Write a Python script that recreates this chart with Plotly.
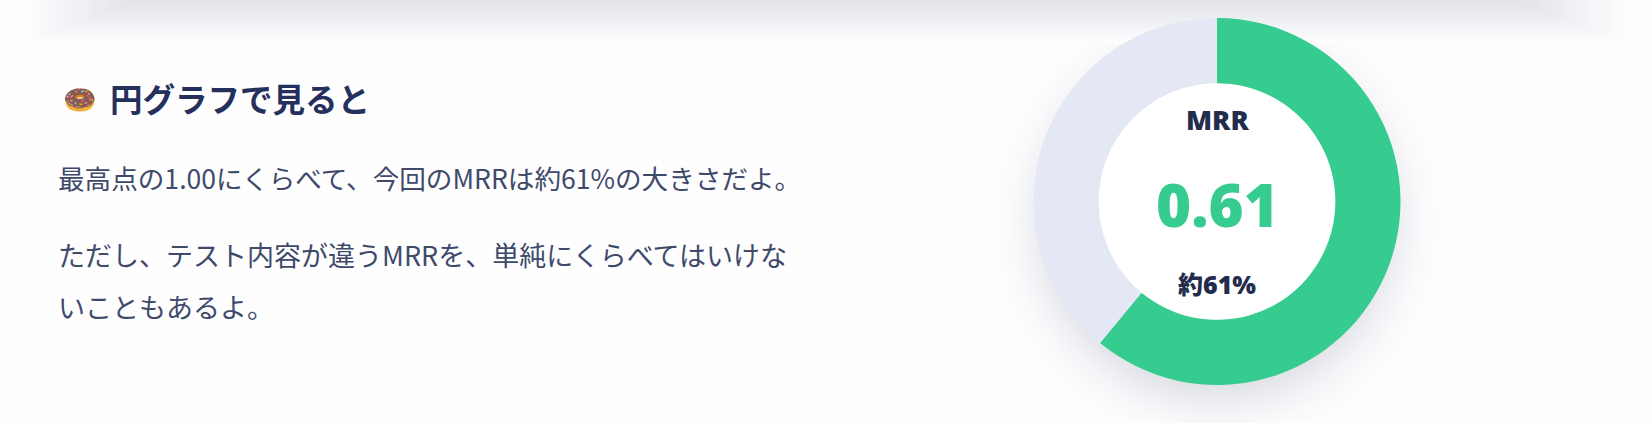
import math
import plotly.graph_objects as go

W, H = 1652, 423

# data
labels = ["MRR", "残り"]
values = [0.61, 0.39]
colors = ["#36CC8F", "#E4E8F5"]

title_text = "円グラフで見ると"
emoji_text = "🍩"
body_lines = [
    "最高点の1.00にくらべて、今回のMRRは約61%の大きさだよ。",
    "ただし、テスト内容が違うMRRを、単純にくらべてはいけな",
    "いこともあるよ。",
]
center_top = "MRR"
center_value = "0.61"
center_bottom = "約61%"

BG = (254, 254, 255)
SHADE = (60, 70, 110)
NAVY = "#25305C"
TEXT = "#3F4A6B"
DARK = "#222C4C"
CJK = "'Noto Sans CJK JP', 'Noto Sans', sans-serif"
LATIN = "'Noto Sans', 'Noto Sans CJK JP', sans-serif"


def px(x):
    return x / W


def py(y):
    return 1 - y / H


def mix(a):
    r, g, b = [round(BG[k] + (SHADE[k] - BG[k]) * a) for k in range(3)]
    return f"rgb({r},{g},{b})"


def note(x, y, text, size, color, anchor="left", family=CJK, weight=400):
    return dict(x=px(x), y=py(y), xref="paper", yref="paper", text=text, showarrow=False,
                xanchor=anchor, yanchor="middle",
                font=dict(family=family, size=size, color=color, weight=weight))


def circle(cx, cy, r, color):
    return dict(type="circle", xref="paper", yref="paper", layer="below", line_width=0,
                x0=px(cx - r), x1=px(cx + r), y0=py(cy + r), y1=py(cy - r), fillcolor=color)


shapes = []

# soft shadow under the donut, opaque rings from outside in
for i in range(44):
    d = 70 - i * 2.5
    s = 0.5 * math.erfc(d / (26 * math.sqrt(2)))
    shapes.append(circle(1217, 222, 176 + d, mix(0.22 * s)))

# white centre of the donut
shapes.append(circle(1217, 202, 119, "rgb(255,255,255)"))

# shadow of the card above, nested from the outer edge inwards
for i in range(22):
    shapes.append(dict(type="rect", xref="paper", yref="paper", layer="below", line_width=0,
                       x0=px(25 + i * 5), x1=px(1627 - i * 5), y0=py(44 - i * 2), y1=py(0),
                       fillcolor=mix(0.005 + i * 0.0066)))

fig = go.Figure(go.Pie(
    labels=labels,
    values=values,
    hole=0.645,
    sort=False,
    direction="clockwise",
    rotation=0,
    textinfo="none",
    marker=dict(colors=colors, line=dict(width=0)),
    domain=dict(x=[px(1033.5), px(1400.5)], y=[py(385), py(18)]),
    showlegend=False,
))

annotations = [
    note(61, 97, emoji_text, 27, NAVY),
    note(108, 97, title_text, 32.5, NAVY, weight=700),
    note(56, 178, body_lines[0], 26.6, TEXT),
    note(56, 254, body_lines[1], 27, TEXT),
    note(56, 306, body_lines[2], 27, TEXT),
    note(1217, 119, center_top, 27, DARK, "center", LATIN, 900),
    note(1217, 204, center_value, 60, colors[0], "center", LATIN, 900),
    note(1217, 284, center_bottom, 25, DARK, "center", LATIN, 900),
]

fig.update_layout(
    width=W,
    height=H,
    margin=dict(l=0, r=0, t=0, b=0),
    paper_bgcolor="rgb(254,254,255)",
    shapes=shapes,
    annotations=annotations,
)

fig.write_html("out.html", config={"displayModeBar": False},
               post_script="document.body.style.margin='0';")
